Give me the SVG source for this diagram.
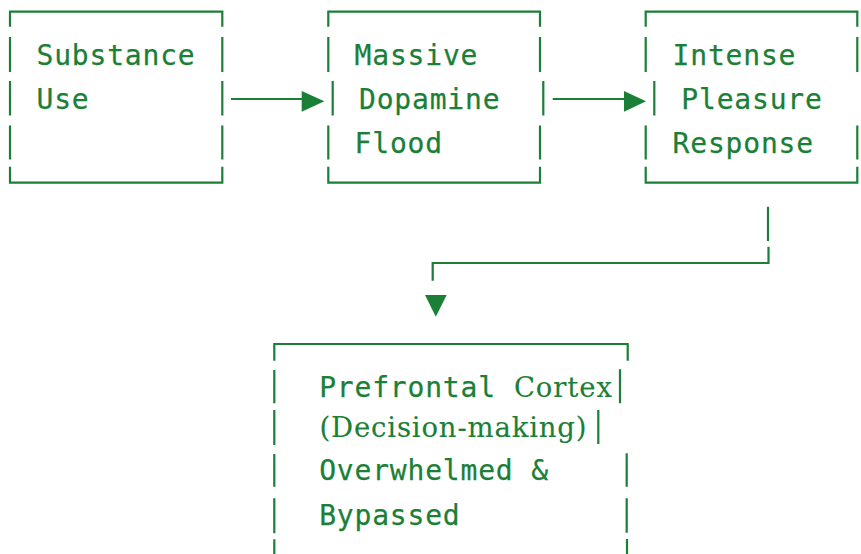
<svg xmlns="http://www.w3.org/2000/svg" width="861" height="554" viewBox="0 0 861 554">
<style>
.ln{fill:none;stroke:#1b7f37;stroke-width:2.2;stroke-linecap:butt;stroke-linejoin:miter}
.ah{fill:#1b7f37;stroke:none}
.t{font-family:"DejaVu Sans Mono","Liberation Mono",monospace;font-size:28px;letter-spacing:0.81px;fill:#1b7f37;stroke:#1b7f37;stroke-width:0.25px}
.s{font-family:"DejaVu Serif","Liberation Serif",serif;font-size:27.5px;fill:#1b7f37;stroke:#1b7f37;stroke-width:0.15px}
</style>
<rect width="861" height="554" fill="#ffffff"/>
<g id="node-substance-use">
<path class="ln" d="M10,26.7 V11.7 H222.3 V26.7 M10,37 V72 M10,81 V115.5 M10,125.5 V159.5 M10,166.7 V182.7 H222.3 V166.7 M222.3,37 V72 M222.3,81 V115.5 M222.3,125.5 V159.5"/>
<text class="t" x="36.5" y="65">Substance</text>
<text class="t" x="36.5" y="109">Use</text>
</g>
<g id="node-dopamine-flood">
<path class="ln" d="M328.3,26.7 V11.7 H540 V26.7 M328.3,37 V72 M332.7,81 V115.5 M328.3,125.5 V159.5 M328.3,166.7 V182.7 H540 V166.7 M540,37 V72 M543.3,81 V115.5 M540,125.5 V159.5"/>
<text class="t" x="354.6" y="65">Massive</text>
<text class="t" x="359" y="109">Dopamine</text>
<text class="t" x="354.6" y="153">Flood</text>
</g>
<g id="node-pleasure-response">
<path class="ln" d="M645.7,26.7 V11.7 H857.3 V26.7 M645.7,37 V72 M654.3,81 V115.5 M645.7,125.5 V159.5 M645.7,166.7 V182.7 H857.3 V166.7 M857.3,37 V72 M857.3,125.5 V159.5"/>
<text class="t" x="672.6" y="65">Intense</text>
<text class="t" x="681.3" y="109">Pleasure</text>
<text class="t" x="672.6" y="153">Response</text>
</g>
<g id="node-prefrontal-cortex">
<path class="ln" d="M274.3,360.7 V344 H627.7 V360.7 M274.3,370 V403.3 M274.3,410 V445 M274.3,454 V486.7 M274.3,498.3 V533.3 M274.3,539.3 V554 M620,369.3 V403.3 M598.3,410 V444 M626.7,453.3 V486.7 M626.7,498.3 V532.7 M627,539 V554"/>
<text class="t" x="319.2" y="396.7">Prefrontal</text>
<text class="s" x="513.9" y="396.7" textLength="98">Cortex</text>
<text class="s" x="319.5" y="437.3" textLength="267">(Decision-making)</text>
<text class="t" x="319.2" y="479.5">Overwhelmed &amp;</text>
<text class="t" x="319.2" y="525">Bypassed</text>
</g>
<g id="connectors">
<path class="ln" d="M231,99 H302"/>
<polygon class="ah" points="301.7,91 324.3,101.3 301.7,111.7"/>
<path class="ln" d="M552.7,99 H624"/>
<polygon class="ah" points="624,91 646,101.3 624,111.7"/>
<path class="ln" d="M768,206.7 V241 M768.5,246.7 V263 H432.7 V280.7"/>
<polygon class="ah" points="425,295 446.7,295 435.8,316.7"/>
</g>
</svg>
